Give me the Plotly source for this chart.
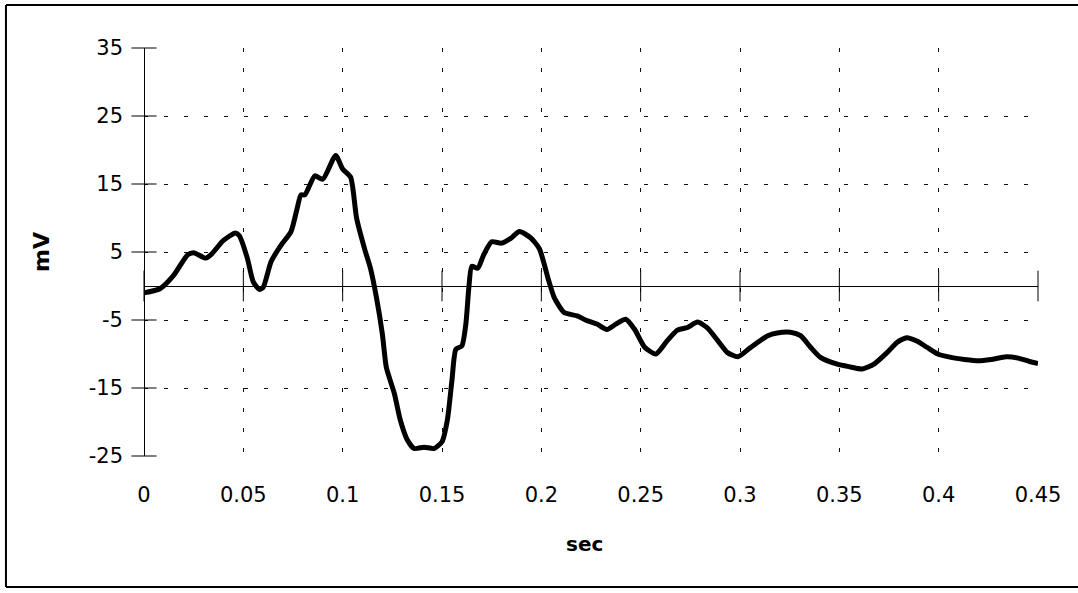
import plotly.graph_objects as go

# Data
time_sec = [0.000, 0.008, 0.015, 0.022, 0.025, 0.031, 0.034, 0.040, 0.046, 0.048,
            0.052, 0.055, 0.058, 0.060, 0.064, 0.069, 0.074, 0.077, 0.079, 0.081,
            0.086, 0.090, 0.0965, 0.100, 0.104, 0.107, 0.111, 0.114, 0.117, 0.120,
            0.122, 0.126, 0.129, 0.1325, 0.136, 0.141, 0.146, 0.150, 0.1527, 0.155,
            0.157, 0.160, 0.162, 0.1635, 0.165, 0.168, 0.171, 0.175, 0.180, 0.1846,
            0.189, 0.1946, 0.199, 0.2035, 0.2065, 0.2115, 0.218, 0.223, 0.228, 0.233,
            0.2375, 0.2425, 0.247, 0.252, 0.2577, 0.2635, 0.2685, 0.2736, 0.2786, 0.2837,
            0.2887, 0.2937, 0.299, 0.3055, 0.314, 0.3187, 0.3254, 0.3305, 0.3355, 0.3405,
            0.349, 0.3556, 0.3615, 0.3674, 0.374, 0.379, 0.384, 0.389, 0.394, 0.3995,
            0.4062, 0.413, 0.420, 0.4264, 0.434, 0.440, 0.4457, 0.450]
voltage_mv = [-1.0, -0.4, 1.6, 4.6, 4.9, 4.1, 4.7, 6.7, 7.8, 7.4,
              4.1, 0.6, -0.5, -0.2, 3.6, 6.0, 8.0, 11.3, 13.4, 13.4,
              16.2, 15.7, 19.2, 17.2, 16.0, 10.0, 5.5, 2.6, -1.7, -7.1,
              -12.0, -15.8, -19.7, -22.6, -23.9, -23.7, -23.9, -22.9, -19.7, -13.9,
              -9.3, -8.8, -5.6, -0.3, 2.9, 2.6, 4.6, 6.5, 6.3, 7.0,
              8.0, 7.1, 5.5, 1.0, -1.7, -3.9, -4.4, -5.1, -5.6, -6.4,
              -5.6, -4.9, -6.4, -9.0, -10.0, -8.0, -6.5, -6.1, -5.3, -6.2,
              -8.0, -9.8, -10.4, -9.0, -7.3, -6.9, -6.8, -7.3, -9.0, -10.5,
              -11.5, -11.9, -12.2, -11.5, -9.8, -8.3, -7.6, -8.1, -9.0, -10.0,
              -10.5, -10.8, -11.0, -10.8, -10.4, -10.6, -11.1, -11.4]

x_ticks = [0, 0.05, 0.1, 0.15, 0.2, 0.25, 0.3, 0.35, 0.4, 0.45]
x_tick_labels = ["0", "0.05", "0.1", "0.15", "0.2", "0.25", "0.3", "0.35", "0.4", "0.45"]
y_ticks = [-25, -15, -5, 5, 15, 25, 35]
y_tick_labels = ["-25", "-15", "-5", "5", "15", "25", "35"]

FONT = "DejaVu Sans"

fig = go.Figure()

# cross tick marks on the x axis (zero line)
fig.add_trace(go.Scatter(
    x=x_ticks, y=[0] * len(x_ticks), mode="markers",
    marker=dict(symbol="line-ns", size=22, line=dict(width=1, color="black"), color="black"),
    hoverinfo="skip", showlegend=False, cliponaxis=False))
# cross tick marks on the y axis
fig.add_trace(go.Scatter(
    x=[0] * len(y_ticks), y=y_ticks, mode="markers",
    marker=dict(symbol="line-ew", size=18, line=dict(width=1, color="black"), color="black"),
    hoverinfo="skip", showlegend=False, cliponaxis=False))

fig.add_trace(go.Scatter(
    x=time_sec, y=voltage_mv, mode="lines",
    line=dict(color="black", width=5, shape="spline", smoothing=0.6),
    showlegend=False))

frame = dict(color="black", width=2)
fig.update_layout(
    width=1078, height=593,
    margin=dict(l=144, r=40, t=48, b=137),
    paper_bgcolor="white", plot_bgcolor="white",
    font=dict(family=FONT, color="black"),
    xaxis=dict(
        range=[0, 0.45], tickvals=x_ticks, ticktext=x_tick_labels,
        showgrid=True, gridcolor="#111", gridwidth=1, griddash="4px,16px",
        zeroline=True, zerolinecolor="black", zerolinewidth=1,
        showline=False, ticks="", tickfont=dict(size=21, family=FONT),
        ticklabelstandoff=24,
    ),
    yaxis=dict(
        range=[-25, 35], tickvals=y_ticks, ticktext=y_tick_labels,
        showgrid=True, gridcolor="#111", gridwidth=1, griddash="4px,16px",
        zeroline=True, zerolinecolor="black", zerolinewidth=1,
        showline=False, ticks="", tickfont=dict(size=21, family=FONT),
        ticklabelstandoff=20,
    ),
    annotations=[
        dict(text="<b>mV</b>", xref="paper", yref="paper", x=-0.1152, y=0.5,
             textangle=-90, showarrow=False, font=dict(size=22, family=FONT),
             xanchor="center", yanchor="middle"),
        dict(text="<b>sec</b>", xref="paper", yref="paper", x=0.493, y=-0.2157,
             showarrow=False, font=dict(size=20, family=FONT),
             xanchor="center", yanchor="middle"),
    ],
    shapes=[
        dict(type="line", xref="paper", yref="paper", x0=-0.1544, x1=1.05,
             y0=1.1054, y1=1.1054, line=frame),
        dict(type="line", xref="paper", yref="paper", x0=-0.1544, x1=-0.1544,
             y0=1.1054, y1=-0.3211, line=frame),
        dict(type="line", xref="paper", yref="paper", x0=-0.1544, x1=1.05,
             y0=-0.3211, y1=-0.3211, line=frame),
    ],
)

fig.write_html("out.html", config={"displayModeBar": False},
               post_script="document.body.style.margin='0';document.body.style.overflow='hidden';")
